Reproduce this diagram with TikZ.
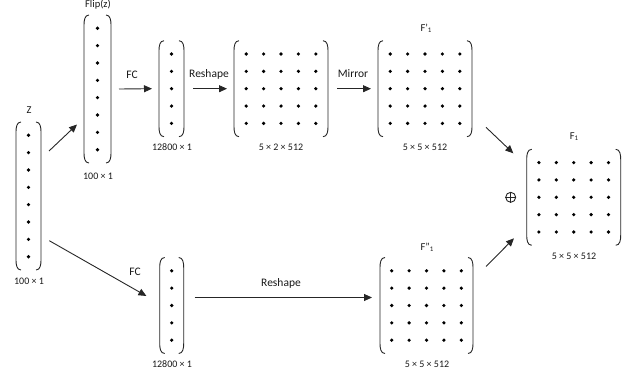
\documentclass[tikz,border=0pt]{standalone}
\usepackage{fontspec}
\setmainfont{Carlito}
\usetikzlibrary{arrows.meta,calc}
\tikzset{
  box/.style={inner sep=0pt, outer sep=0pt, draw=none},
  brk/.style={line width=0.9pt, black!85},
  arr/.style={line width=0.9pt, black!85, -{Triangle[length=8pt,width=7pt]}},
  albl/.style={inner sep=0pt, font=\fontsize{11.5}{13}\selectfont, text=black!90},
  ttl/.style={inner sep=0pt, font=\fontsize{10.5}{12}\selectfont, text=black!90},
  dim/.style={inner sep=0pt, font=\fontsize{10}{12}\selectfont, text=black!90},
}
\newcommand\parens[1]{%
  \draw[brk] ($(#1.north west)+(5,0)$) to[out=180,in=90] ($(#1.north west)+(0,10)$) -- ($(#1.south west)+(0,-10)$) to[out=-90,in=180] ($(#1.south west)+(5,0)$);
  \draw[brk] ($(#1.north east)+(-5,0)$) to[out=0,in=90] ($(#1.north east)+(0,10)$) -- ($(#1.south east)+(0,-10)$) to[out=-90,in=0] ($(#1.south east)+(-5,0)$);
}
\newcommand\dotgrid[3]{%
  \foreach \i in {1,...,#2}{\foreach \j in {1,...,#3}{
    \fill[black] ($(#1.center)+({(\i-(#2+1)/2)*17.4},{(\j-(#3+1)/2)*17.35})$) circle (1.8pt);
  }}%
}
\newcommand\sub[1]{\raisebox{-0.25ex}{\fontsize{7}{8}\selectfont #1}}
\begin{document}
\begin{tikzpicture}[x=1pt,y=-1pt]
\useasboundingbox (0,0) rectangle (629,374);
% nodes
\node[box, minimum width=25pt, minimum height=148pt] (z) at (28.5,196) {};
\node[box, minimum width=27pt, minimum height=148pt] (flip) at (97.5,89) {};
\node[box, minimum width=25pt, minimum height=96pt] (v1) at (171.5,88.7) {};
\node[box, minimum width=94pt, minimum height=96pt] (m1) at (281,88.7) {};
\node[box, minimum width=94pt, minimum height=96pt] (fp) at (425,88.7) {};
\node[box, minimum width=94pt, minimum height=96pt] (f1) at (573.7,197.3) {};
\node[box, minimum width=24pt, minimum height=96pt] (v2) at (171.7,305.5) {};
\node[box, minimum width=93pt, minimum height=96pt] (fpp) at (426.5,305.5) {};
\foreach \n in {z,flip,v1,m1,fp,f1,v2,fpp} {\parens{\n}}
\dotgrid{z}{1}{8}
\dotgrid{flip}{1}{8}
\dotgrid{v1}{1}{5}
\dotgrid{v2}{1}{5}
\dotgrid{m1}{5}{5}
\dotgrid{fp}{5}{5}
\dotgrid{fpp}{5}{5}
\dotgrid{f1}{5}{5}
% plus
\node[circle, draw, line width=0.9pt, black!85, minimum size=10pt, inner sep=0pt] (plus) at (510.7,197.3) {};
\draw[line width=0.9pt, black!85] (plus.west) -- (plus.east) (plus.north) -- (plus.south);
% titles
\node[ttl] (tz) at (29,110) {Z};
\node[ttl] (tflip) at (98,5) {Flip(z)};
\node[ttl] (tfp) at (426,28) {F'\sub{1}};
\node[ttl] (tf1) at (574,137) {F\sub{1}};
\node[ttl] (tfpp) at (427,247) {F''\sub{1}};
% dims
\node[dim] (dz) at (29,281) {100 × 1};
\node[dim] (dflip) at (98,176) {100 × 1};
\node[dim] (dv1) at (172,147) {12800 × 1};
\node[dim] (dm1) at (281,147) {5 × 2 × 512};
\node[dim] (dfp) at (425,147) {5 × 5 × 512};
\node[dim] (df1) at (574,256) {5 × 5 × 512};
\node[dim] (dfpp) at (427,364) {5 × 5 × 512};
\node[dim] (dv2) at (172,364) {12800 × 1};
% arrow labels
\node[albl] (lfc1) at (132,75) {FC};
\node[albl] (lrs1) at (209,74) {Reshape};
\node[albl] (lmir) at (353,74) {Mirror};
\node[albl] (lfc2) at (135,272) {FC};
\node[albl] (lrs2) at (281,283) {Reshape};
% arrows
\draw[arr] ($(z.north east)+(8,29)$) -- ($(flip.west)+(-7,35.5)$);
\draw[arr] ($(flip.east)+(8,0)$) -- ($(v1.west)+(-7,0)$);
\draw[arr] ($(v1.east)+(9,0)$) -- ($(m1.west)+(-7,0)$);
\draw[arr] ($(m1.east)+(9,0)$) -- ($(fp.west)+(-7,0)$);
\draw[arr] ($(fp.south east)+(14,-9.4)$) -- ($(f1.north west)+(-13.4,4)$);
\draw[arr] ($(z.south east)+(8.3,-29.3)$) -- ($(v2.west)+(-13.3,-9.5)$);
\draw[arr] ($(v2.east)+(11,-8)$) -- ($(fpp.west)+(-8,-8)$);
\draw[arr] ($(fpp.north east)+(13,9)$) -- ($(f1.south west)+(-12.7,-7)$);
\end{tikzpicture}
\end{document}
